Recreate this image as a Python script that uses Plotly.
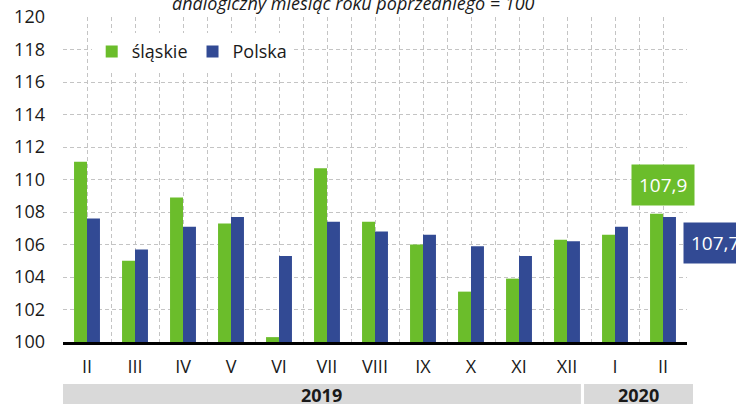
import plotly.graph_objects as go

months = ["II", "III", "IV", "V", "VI", "VII", "VIII", "IX", "X", "XI", "XII", "I", "II"]
slaskie = [111.1, 105.0, 108.9, 107.3, 100.3, 110.7, 107.4, 106.0, 103.1, 103.9, 106.3, 106.6, 107.9]
polska = [107.6, 105.7, 107.1, 107.7, 105.3, 107.4, 106.8, 106.6, 105.9, 105.3, 106.2, 107.1, 107.7]
years = ["2019", "2020"]
y_ticks = list(range(100, 121, 2))
title_text = "analogiczny miesiąc roku poprzedniego = 100"

GREEN = "#6bbd2b"
BLUE = "#324a94"
FONT = "Open Sans"
xs = list(range(len(months)))

fig = go.Figure()
fig.add_trace(go.Bar(x=xs, y=[v - 100 for v in slaskie], base=100, name="śląskie",
                     marker=dict(color=GREEN, line=dict(width=0))))
fig.add_trace(go.Bar(x=xs, y=[v - 100 for v in polska], base=100, name="Polska",
                     marker=dict(color=BLUE, line=dict(width=0))))

grid = dict(gridcolor="#c4c4c4", gridwidth=1.3, griddash="4px,3px")
half_steps = [i * 0.5 - 0.5 for i in range(2 * len(months) + 1)]

fig.update_layout(
    width=736, height=404,
    margin=dict(l=63, r=49, t=17, b=62, autoexpand=False),
    paper_bgcolor="white", plot_bgcolor="white",
    barmode="group", bargap=0.46, bargroupgap=0,
    font=dict(family=FONT, size=18, color="#1a1a1a"),
    showlegend=True,
    legend=dict(orientation="h", x=0.046, y=0.95, xanchor="left", yanchor="top",
                bgcolor="white", font=dict(size=18), itemwidth=30,
                traceorder="normal"),
    xaxis=dict(range=[-0.5, len(months) - 0.5], tickmode="array", tickvals=xs,
               ticktext=months, showline=True, linecolor="black", linewidth=2.5,
               ticks="", ticklabelstandoff=7, showgrid=True, **grid,
               minor=dict(tickmode="array", tickvals=half_steps, showgrid=True, **grid),
               zeroline=False, fixedrange=True, automargin=False),
    yaxis=dict(range=[100, 120], tickmode="array", tickvals=y_ticks, showgrid=True, **grid,
               ticks="", ticklabelstandoff=17, zeroline=False, showline=False,
               automargin=False, fixedrange=True),
)

# year bands under the axis
band_bounds = [(0.0, 0.830), (0.835, 1.0096)]
for (x0, x1), yr in zip(band_bounds, years):
    fig.add_shape(type="rect", xref="paper", yref="paper", x0=x0, x1=x1, y0=-0.129, y1=-0.25,
                  fillcolor="#d9d9d9", line=dict(width=0), layer="below")
    fig.add_annotation(xref="paper", yref="paper", x=(x0 + x1) / 2, y=-0.121,
                       xanchor="center", yanchor="top",
                       text=f"<b>{yr}</b>", showarrow=False, font=dict(size=18, color="#1a1a1a"))

# title (cut off at top)
fig.add_annotation(xref="paper", yref="paper", x=0.465, y=1.0, xanchor="center", yanchor="bottom",
                   text=f"<i>{title_text}</i>", showarrow=False,
                   font=dict(size=18, color="#1a1a1a"))

# value labels for the last month
last = len(months) - 1
fig.add_annotation(x=last, y=slaskie[last] + 1.78, text=f"{slaskie[last]:.1f}".replace(".", ","),
                   showarrow=False, bgcolor=GREEN, font=dict(color="white", size=19),
                   borderpad=7, xanchor="center", yanchor="middle")
fig.add_annotation(x=last + 0.42, y=polska[last] - 1.63, text=f"{polska[last]:.1f}".replace(".", ","),
                   showarrow=False, bgcolor=BLUE, font=dict(color="white", size=19),
                   borderpad=7, xanchor="left", yanchor="middle")

fig.write_html("out.html", config={"displayModeBar": False},
               post_script="document.body.style.margin='0';")
